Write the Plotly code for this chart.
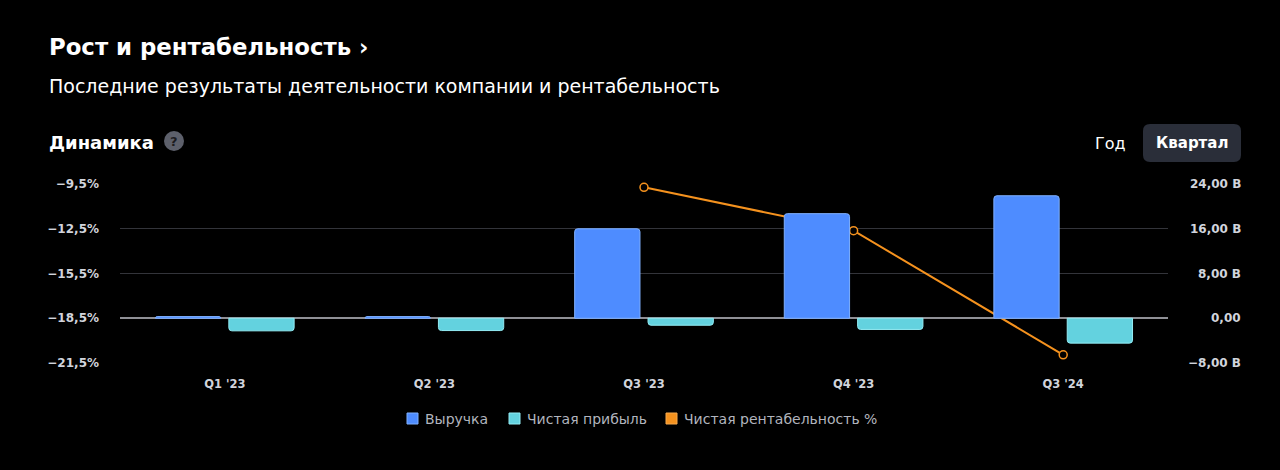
import plotly.graph_objects as go

# data
quarters = ["Q1 '23", "Q2 '23", "Q3 '23", "Q4 '23", "Q3 '24"]
revenue = [0.3, 0.3, 16.0, 18.7, 21.9]          # billions
net_income = [-2.25, -2.2, -1.25, -2.0, -4.45]  # billions
net_margin = [None, None, -9.72, -12.63, -20.95]  # %

margin_ticks = [-21.5, -18.5, -15.5, -12.5, -9.5]
margin_labels = ["−21,5%", "−18,5%", "−15,5%", "−12,5%", "−9,5%"]
money_ticks = [-8, 0, 8, 16, 24]
money_labels = ["−8,00 B", "0,00", "8,00 B", "16,00 B", "24,00 B"]

series_names = ["Выручка", "Чистая прибыль", "Чистая рентабельность %"]
series_fill = ["#4e8cff", "#63d2df", "#f5921e"]
series_edge = ["#7fb0ff", "#93ecf4", "#f7a94d"]

W, H = 1280, 470
L, R, T, B = 120, 112, 184, 107
FONT = "DejaVu Sans"


def px_x(p):
    return (p - L) / (W - L - R)


def px_y(p):
    return (H - B - p) / (H - T - B)


def rounded_rect(x0, y0, x1, y1, r):
    return (f"M {px_x(x0 + r)},{px_y(y0)} L {px_x(x1 - r)},{px_y(y0)} "
            f"Q {px_x(x1)},{px_y(y0)} {px_x(x1)},{px_y(y0 + r)} "
            f"L {px_x(x1)},{px_y(y1 - r)} Q {px_x(x1)},{px_y(y1)} {px_x(x1 - r)},{px_y(y1)} "
            f"L {px_x(x0 + r)},{px_y(y1)} Q {px_x(x0)},{px_y(y1)} {px_x(x0)},{px_y(y1 - r)} "
            f"L {px_x(x0)},{px_y(y0 + r)} Q {px_x(x0)},{px_y(y0)} {px_x(x0 + r)},{px_y(y0)} Z")


fig = go.Figure()

fig.add_trace(go.Bar(
    x=quarters, y=revenue, name=series_names[0], yaxis="y2",
    marker=dict(color=series_fill[0], line=dict(color=series_edge[0], width=1)),
))
fig.add_trace(go.Bar(
    x=quarters, y=net_income, name=series_names[1], yaxis="y2",
    marker=dict(color=series_fill[1], line=dict(color=series_edge[1], width=1)),
))
fig.add_trace(go.Scatter(
    x=quarters, y=net_margin, name=series_names[2], yaxis="y",
    mode="lines+markers", cliponaxis=False,
    line=dict(color=series_fill[2], width=2),
    marker=dict(size=8, color="#000000", line=dict(color=series_fill[2], width=1.5)),
))

# right axis labels, right aligned
for v, t in zip(money_ticks, money_labels):
    fig.add_annotation(text=t, xref="paper", yref="y2", x=px_x(1243), y=v,
                       xanchor="right", yanchor="middle", showarrow=False,
                       font=dict(family=FONT, size=12, color="#d1d4dc", weight="bold"))

# header texts
fig.add_annotation(text="Рост и рентабельность ›", xref="paper", yref="paper",
                   x=px_x(47), y=px_y(47), xanchor="left", yanchor="middle", showarrow=False,
                   font=dict(family=FONT, size=22.8, color="#ffffff", weight="bold"))
fig.add_annotation(text="Последние результаты деятельности компании и рентабельность",
                   xref="paper", yref="paper", x=px_x(47), y=px_y(86),
                   xanchor="left", yanchor="middle", showarrow=False,
                   font=dict(family=FONT, size=19, color="#ffffff"))
fig.add_annotation(text="Динамика", xref="paper", yref="paper", x=px_x(47), y=px_y(142),
                   xanchor="left", yanchor="middle", showarrow=False,
                   font=dict(family=FONT, size=18, color="#ffffff", weight="bold"))
fig.add_shape(type="circle", xref="paper", yref="paper",
              x0=px_x(164), x1=px_x(184), y0=px_y(131), y1=px_y(151),
              fillcolor="#5d606b", line=dict(width=0))
fig.add_annotation(text="?", xref="paper", yref="paper", x=px_x(174), y=px_y(141),
                   xanchor="center", yanchor="middle", showarrow=False,
                   font=dict(family=FONT, size=13, color="#1c1c1f", weight="bold"))

# period switch
fig.add_annotation(text="Год", xref="paper", yref="paper", x=px_x(1110), y=px_y(143),
                   xanchor="center", yanchor="middle", showarrow=False,
                   font=dict(family=FONT, size=16, color="#ffffff"))
fig.add_shape(type="path", path=rounded_rect(1143, 124, 1241, 162, 7),
              xref="paper", yref="paper", fillcolor="#2a2e39", line=dict(width=0),
              layer="below")
fig.add_annotation(text="Квартал", xref="paper", yref="paper", x=px_x(1192), y=px_y(143),
                   xanchor="center", yanchor="middle", showarrow=False,
                   font=dict(family=FONT, size=15, color="#ffffff", weight="bold"))

# legend (square swatches like the reference)
legend_x = [407, 509, 666]
for name, fill, edge, lx in zip(series_names, series_fill, series_edge, legend_x):
    fig.add_shape(type="rect", xref="paper", yref="paper",
                  x0=px_x(lx), x1=px_x(lx + 11), y0=px_y(413), y1=px_y(424),
                  fillcolor=fill, line=dict(color=edge, width=1))
    fig.add_annotation(text=name, xref="paper", yref="paper", x=px_x(lx + 16), y=px_y(418.5),
                       xanchor="left", yanchor="middle", showarrow=False,
                       font=dict(family=FONT, size=14, color="#b2b5be"))

fig.update_layout(
    width=W, height=H,
    margin=dict(l=L, r=R, t=T, b=B),
    paper_bgcolor="#000000", plot_bgcolor="#000000",
    barmode="group", bargap=0.3, bargroupgap=0.11, barcornerradius=3,
    font=dict(family=FONT, color="#d1d4dc"),
    showlegend=False,
    xaxis=dict(showgrid=False, showline=False, ticks="", ticklabelstandoff=12,
               tickfont=dict(family=FONT, size=11.5, color="#d1d4dc", weight="bold")),
    yaxis=dict(range=[-21.5, -9.5], tickvals=margin_ticks, ticktext=margin_labels,
               showgrid=False, zeroline=False, showline=False, ticks="",
               ticklabelstandoff=20,
               tickfont=dict(family=FONT, size=12, color="#d1d4dc", weight="bold")),
    yaxis2=dict(range=[-8, 24], tickvals=money_ticks, showticklabels=False,
                overlaying="y", side="right", showgrid=True, gridcolor="#33343a",
                gridwidth=1, zeroline=True, zerolinecolor="#8f9096", zerolinewidth=1.5,
                showline=False, ticks=""),
)

fig.write_html("out.html", config={"displayModeBar": False},
               post_script="document.body.style.margin='0';"
                           "document.body.style.background='#000';")
